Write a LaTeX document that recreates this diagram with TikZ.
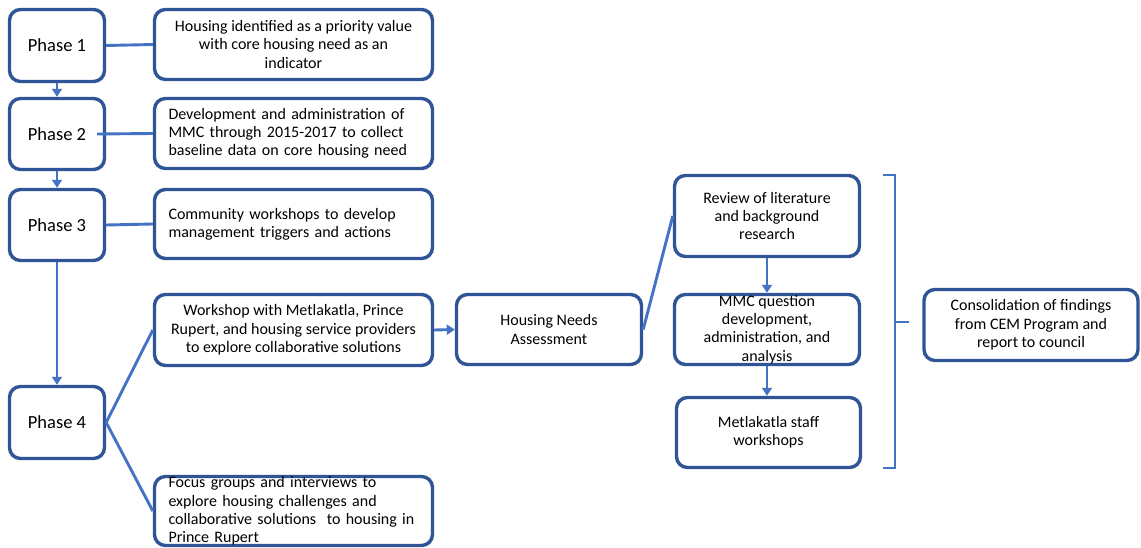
\documentclass[tikz,border=0pt]{standalone}
\usepackage{fontspec}
\setmainfont{Carlito}
\usetikzlibrary{arrows.meta}
\definecolor{boxblue}{HTML}{2F5597}
\definecolor{linkblue}{HTML}{4472C4}
\begin{document}
\begin{tikzpicture}[x=1pt,y=-1pt,
  box/.style={draw=boxblue, line width=3.4pt, rounded corners=11pt, fill=white,
    inner xsep=6pt, inner ysep=0pt, align=center,
    font=\fontsize{16}{18.3}\selectfont},
  phasebox/.style={box, font=\fontsize{18.5}{21}\selectfont},
  leftbox/.style={box, align=left, text width=#1},
  link/.style={draw=linkblue, line width=2.9pt},
  arrowlink/.style={link, -{Triangle[length=8pt,width=10pt]}},
]
\useasboundingbox[fill=white] (0,0) rectangle (1141,548);

% phases
\node[phasebox, minimum width=95, minimum height=72] (p1) at (57,45.5) {Phase 1};
\node[phasebox, minimum width=95, minimum height=71] (p2) at (57,134) {Phase 2};
\node[phasebox, minimum width=95, minimum height=71] (p3) at (57,225) {Phase 3};
\node[phasebox, minimum width=95, minimum height=72] (p4) at (57,422.5) {Phase 4};

% phase descriptions
\node[box, minimum width=278, minimum height=70] (b1) at (293.5,44.5)
  {Housing identified as a priority value\\with core housing need as an\\indicator};
\node[leftbox=250, minimum width=278, minimum height=70] (b2) at (293.5,133.5)
  {Development and administration of\\MMC through 2015-2017 to collect\\baseline data on core housing need};
\node[leftbox=250, minimum width=278, minimum height=69] (b3) at (293.5,224)
  {Community workshops to develop\\management triggers and actions};
\node[box, minimum width=278, minimum height=71] (ws) at (293.5,330)
  {Workshop with Metlakatla, Prince\\Rupert, and housing service providers\\to explore collaborative solutions};
\node[leftbox=250, minimum width=278, minimum height=69] (fg) at (293.5,511)
  {Focus groups and interviews to\\explore housing challenges and\\collaborative solutions\ \ to housing in\\Prince Rupert};

% housing needs assessment branch
\node[box, minimum width=185, minimum height=70] (hna) at (549,329.5)
  {Housing Needs\\Assessment};
\node[box, minimum width=185, minimum height=81] (rev) at (767,216)
  {Review of literature\\and background\\research};
\node[box, minimum width=185, minimum height=70] (mmc) at (767,329.5)
  {MMC question\\development,\\administration, and\\analysis};
\node[box, minimum width=184, minimum height=70] (mst) at (768.5,432.5)
  {Metlakatla staff\\workshops};
\node[box, minimum width=214, minimum height=71] (cons) at (1031,325)
  {Consolidation of findings\\from CEM Program and\\report to council};

% phase sequence
\draw[arrowlink] (p1.south) -- (p2.north);
\draw[arrowlink] (p2.south) -- (p3.north);
\draw[arrowlink] (p3.south) -- (p4.north);

% phase to description links
\draw[link] (p1.east) -- (b1.west);
\draw[link] ([xshift=-9pt]p2.east) -- (b2.west);
\draw[link] (p3.east) -- (b3.west);
\draw[link] (p4.east) -- (ws.west);
\draw[link] (p4.east) -- (fg.west);

% assessment flow
\draw[arrowlink] (ws.east) -- (hna.west);
\draw[link] (hna.east) -- (rev.west);
\draw[arrowlink] (rev.south) -- (mmc.north);
\draw[arrowlink] (mmc.south) -- ([xshift=-1.5pt]mst.north);

% bracket grouping the assessment steps
\coordinate (brtop) at (883,175);
\coordinate (brbot) at (883,468);
\coordinate (brtip) at (909,322);
\draw[link, line width=2.6pt] (brtop) -- (895,175) -- (895,468) -- (brbot);
\draw[link, line width=2.6pt] (895,322) -- (brtip);
\end{tikzpicture}
\end{document}
